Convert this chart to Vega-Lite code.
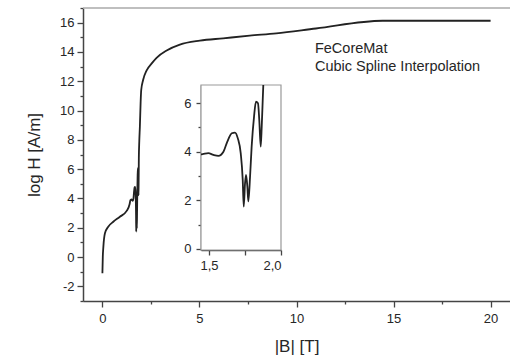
{
  "$schema": "https://vega.github.io/schema/vega-lite/v6.json",
  "width": 427,
  "height": 293,
  "autosize": {"type": "none"},
  "padding": {"left": 83, "top": 8, "right": 0, "bottom": 58},
  "background": "white",
  "view": {"stroke": null},
  "config": {
    "font": "Liberation Sans",
    "axis": {
      "domainColor": "#444444",
      "domainWidth": 1.5,
      "tickColor": "#444444",
      "tickWidth": 1.3,
      "labelColor": "#262626",
      "labelFontSize": 13,
      "titleColor": "#262626",
      "titleFontSize": 17,
      "titleFontWeight": "normal",
      "grid": false,
      "zindex": 1
    }
  },
  "datasets": {
    "curve": [
      {"B": 0.0, "H": -1.1},
      {"B": 0.02, "H": 0.0},
      {"B": 0.05, "H": 0.71},
      {"B": 0.13, "H": 1.62},
      {"B": 0.3, "H": 2.07},
      {"B": 0.56, "H": 2.41},
      {"B": 0.9, "H": 2.75},
      {"B": 1.25, "H": 3.15},
      {"B": 1.4, "H": 3.6},
      {"B": 1.444, "H": 3.89},
      {"B": 1.456, "H": 3.9},
      {"B": 1.495, "H": 3.94},
      {"B": 1.53, "H": 3.87},
      {"B": 1.565, "H": 3.83},
      {"B": 1.6, "H": 4.0},
      {"B": 1.627, "H": 4.42},
      {"B": 1.658, "H": 4.76},
      {"B": 1.68, "H": 4.79},
      {"B": 1.7, "H": 4.55},
      {"B": 1.72, "H": 3.94},
      {"B": 1.734, "H": 2.84},
      {"B": 1.741, "H": 1.74},
      {"B": 1.75, "H": 2.7},
      {"B": 1.757, "H": 3.05},
      {"B": 1.766, "H": 2.57},
      {"B": 1.773, "H": 1.95},
      {"B": 1.785, "H": 2.98},
      {"B": 1.796, "H": 4.21},
      {"B": 1.8125, "H": 5.44},
      {"B": 1.826, "H": 6.06},
      {"B": 1.84, "H": 6.0},
      {"B": 1.849, "H": 5.31},
      {"B": 1.859, "H": 4.21},
      {"B": 1.866, "H": 5.03},
      {"B": 1.873, "H": 6.13},
      {"B": 1.877, "H": 6.75},
      {"B": 1.9, "H": 7.9},
      {"B": 1.93, "H": 8.9},
      {"B": 1.97, "H": 10.6},
      {"B": 2.0, "H": 11.4},
      {"B": 2.1, "H": 12.1},
      {"B": 2.28, "H": 12.75},
      {"B": 2.53, "H": 13.2},
      {"B": 2.79, "H": 13.6},
      {"B": 3.31, "H": 14.1},
      {"B": 3.99, "H": 14.5},
      {"B": 5.02, "H": 14.77},
      {"B": 6.22, "H": 14.93},
      {"B": 7.59, "H": 15.11},
      {"B": 8.96, "H": 15.27},
      {"B": 11.0, "H": 15.6},
      {"B": 14.44, "H": 16.13},
      {"B": 20.0, "H": 16.13}
    ]
  },
  "layer": [
    {
      "data": {"values": [{}]},
      "mark": {"type": "rule", "color": "#aaaaaa", "strokeWidth": 1.5},
      "encoding": {
        "x": {"datum": -1, "type": "quantitative", "scale": {"domain": [-1, 21], "nice": false, "zero": false}, "axis": null},
        "x2": {"datum": 21},
        "y": {"datum": 17, "type": "quantitative", "scale": {"domain": [-3, 17], "nice": false, "zero": false}, "axis": null}
      }
    },
    {
      "data": {"values": [{}]},
      "mark": {"type": "text", "align": "left", "baseline": "middle", "fontSize": 14.5, "color": "#262626", "lineHeight": 18},
      "encoding": {
        "x": {"datum": 10.95, "type": "quantitative", "scale": {"domain": [-1, 21], "nice": false, "zero": false}, "axis": null},
        "y": {"datum": 14.2, "type": "quantitative", "scale": {"domain": [-3, 17], "nice": false, "zero": false}, "axis": null},
        "text": {"value": ["FeCoreMat", "Cubic Spline Interpolation"]}
      }
    },
    {
      "data": {"name": "curve"},
      "mark": {"type": "line", "interpolate": "monotone", "color": "#222222", "strokeWidth": 1.8},
      "encoding": {
        "x": {
          "field": "B", "type": "quantitative",
          "scale": {"domain": [-1, 21], "nice": false, "zero": false},
          "axis": {
            "orient": "bottom",
            "title": "|B| [T]",
            "values": [0, 2.5, 5, 7.5, 10, 12.5, 15, 17.5, 20],
            "format": "~g",
            "labelExpr": "datum.value % 5 == 0 ? datum.label : ''",
            "tickSize": {"condition": {"test": "datum.value % 5 == 0", "value": 6}, "value": 3},
            "labelPadding": 5,
            "titlePadding": 13
          }
        },
        "y": {
          "field": "H", "type": "quantitative",
          "scale": {"domain": [-3, 17], "nice": false, "zero": false},
          "axis": {
            "orient": "left",
            "title": "log H [A/m]",
            "values": [-3, -2, -1, 0, 1, 2, 3, 4, 5, 6, 7, 8, 9, 10, 11, 12, 13, 14, 15, 16, 17],
            "labelExpr": "datum.value % 2 == 0 ? replace(datum.label, '\u2212', '-') : ''",
            "tickSize": {"condition": {"test": "datum.value % 2 == 0", "value": 6}, "value": 3},
            "labelPadding": 3,
            "titlePadding": 16
          }
        }
      }
    },
    {
      "data": {"values": [{}]},
      "mark": {"type": "rect", "fill": "white", "stroke": "#999999", "strokeWidth": 1.2},
      "encoding": {
        "x": {"datum": 1.444, "type": "quantitative", "scale": {"domain": [1.444, 2.0], "range": [118, 198], "nice": false, "zero": false}, "axis": null},
        "x2": {"datum": 2.0},
        "y": {"datum": -0.05, "type": "quantitative", "scale": {"domain": [-0.05, 6.75], "range": [242, 77], "nice": false, "zero": false}, "axis": null},
        "y2": {"datum": 6.75}
      }
    },
    {
      "data": {"name": "curve"},
      "transform": [{"filter": "datum.B >= 1.444 && datum.B <= 1.877"}],
      "mark": {"type": "line", "interpolate": "monotone", "color": "#222222", "strokeWidth": 1.8},
      "encoding": {
        "x": {
          "field": "B", "type": "quantitative",
          "scale": {"domain": [1.444, 2.0], "range": [118, 198], "nice": false, "zero": false},
          "axis": {
            "orient": "bottom",
            "offset": -51,
            "title": null,
            "values": [1.5, 1.75, 2.0],
            "labelExpr": "datum.value == 1.75 ? '' : replace(format(datum.value, '.1f'), '.', ',')",
            "tickSize": 5,
            "labelPadding": 4
          }
        },
        "y": {
          "field": "H", "type": "quantitative",
          "scale": {"domain": [-0.05, 6.75], "range": [242, 77], "nice": false, "zero": false},
          "axis": {
            "orient": "left",
            "offset": -118,
            "title": null,
            "values": [0, 1, 2, 3, 4, 5, 6],
            "labelExpr": "datum.value % 2 == 0 ? datum.label : ''",
            "tickSize": {"condition": {"test": "datum.value % 2 == 0", "value": 5}, "value": 3},
            "labelPadding": 5
          }
        }
      }
    }
  ],
  "resolve": {"scale": {"x": "independent", "y": "independent"}, "axis": {"x": "independent", "y": "independent"}}
}
